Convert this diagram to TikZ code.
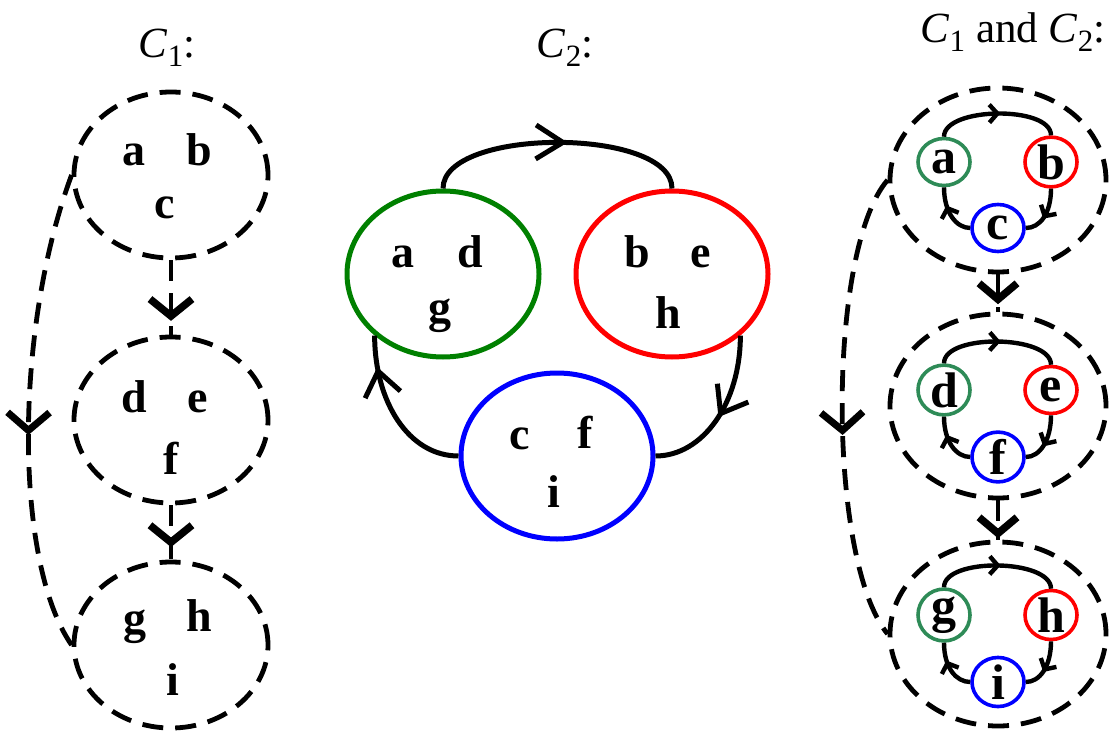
\documentclass[tikz,border=0pt]{standalone}
\usepackage{fontspec}
\setmainfont{Liberation Serif}
\usetikzlibrary{decorations.markings,shapes.geometric}

\definecolor{cgreen}{RGB}{0,128,0}
\definecolor{cred}{RGB}{255,0,0}
\definecolor{cblue}{RGB}{0,0,255}
\definecolor{sgreen}{RGB}{46,139,87}

\tikzset{
  title/.style={anchor=base, inner sep=0pt, font=\fontsize{43}{48}\selectfont},
  elt/.style={anchor=base, inner sep=0pt, font=\fontsize{46}{50}\selectfont\bfseries},
  dashline/.style={line width=4.8pt, dash pattern=on 21pt off 12pt},
  group/.style={ellipse, draw, dashline, inner sep=0pt, minimum width=194pt, minimum height=166pt},
  wrap/.style={ellipse, draw, dashline, inner sep=0pt, minimum width=216pt, minimum height=184pt},
  bigset/.style={ellipse, draw, line width=5pt, inner sep=0pt, minimum width=192pt, minimum height=166pt},
  member/.style={ellipse, draw, line width=3.6pt, inner sep=0pt, minimum width=52pt, minimum height=47pt,
                 font=\fontsize{50}{50}\selectfont\bfseries},
  flow/.style={dashline},
  ring/.style={line width=5pt},
  thinring/.style={line width=4.4pt},
  % open V head at fraction #1 of the path: depth #2, half-spread #3, stroke #4
  tipat/.style n args={4}{postaction={decorate, decoration={markings,
      mark=at position #1 with {\draw[line width=#4, solid, line cap=butt, line join=miter]
        (-#2,#3) -- (0,0) -- (-#2,-#3);}}}},
}

\newcommand{\Cset}[1]{\textit{C}\raisebox{-9pt}{\fontsize{31}{31}\selectfont #1}}

\begin{document}
\begin{tikzpicture}[x=1pt, y=1pt]
\useasboundingbox (0,0) rectangle (1115,-730);

% ---------- titles ----------
\node[title] (t1) at (167,-58) {\Cset{1}:};
\node[title] (t2) at (565,-58) {\Cset{2}:};
\node[title] (t3) at (1013,-43) {\Cset{1} and \Cset{2}:};

% ---------- C1: three dashed groups ----------
\node[group] (L1) at (171,-175) {};
\node[group] (L2) at (171,-420) {};
\node[group] (L3) at (171,-645) {};

\node[elt] (la) at (134,-165) {a};
\node[elt] (lb) at (199,-165) {b};
\node[elt] (lc) at (165,-218) {c};
\node[elt] (ld) at (134,-412) {d};
\node[elt] (le) at (198,-412) {e};
\node[elt] (lf) at (171,-474) {f};
\node[elt] (lg) at (135,-633) {g};
\node[elt] (lh) at (199,-631) {h};
\node[elt] (li) at (173,-695) {i};

\draw[flow, tipat={0.75}{17}{21}{7.5pt}] (L1.south) -- (L2.north);
\draw[flow, tipat={0.68}{17}{21}{7.5pt}] (L2.south) -- (L3.north);
\draw[flow, tipat={0.54}{18}{21}{7pt}] (L1.west) .. controls (14,-330) and (14,-562) .. (L3.west);

% ---------- C2: three coloured sets ----------
\node[bigset, draw=cgreen] (SG) at (443,-274) {};
\node[bigset, draw=cred]   (SR) at (672,-274) {};
\node[bigset, draw=cblue]  (SB) at (557,-456) {};

\node[elt] (ma) at (403,-267) {a};
\node[elt] (md) at (470,-267) {d};
\node[elt] (mg) at (440,-322) {g};
\node[elt] (mb) at (637,-267) {b};
\node[elt] (me) at (701,-267) {e};
\node[elt] (mh) at (668,-328) {h};
\node[elt] (mc) at (520,-449) {c};
\node[elt] (mf) at (585,-448) {f};
\node[elt] (mi) at (554,-507) {i};

\draw[ring, tipat={0.52}{27}{17}{5pt}] (SG.north) .. controls (443,-127) and (672,-127) .. (SR.north);
\draw[ring, tipat={0.5}{24}{18}{5pt}] (SR.-42) .. controls +(0,-68) and +(47,0) .. (SB.east);
\draw[ring, tipat={0.78}{24}{18}{5pt}] (SB.west) .. controls +(-50,0) and +(0,-66) .. (SG.-138);

% ---------- C1 and C2 combined ----------
\node[wrap] (O1) at (998,-180) {};
\node[wrap] (O2) at (998,-406) {};
\node[wrap] (O3) at (998,-634) {};

\node[member, draw=sgreen] (A) at (944,-162) {a};
\node[member, draw=cred]   (B) at (1051,-162) {b};
\node[member, draw=cblue]  (C) at (998,-228) {c};
\node[member, draw=sgreen] (D) at (944,-390) {d};
\node[member, draw=cred]   (E) at (1051,-390) {e};
\node[member, draw=cblue]  (F) at (998,-457) {f};
\node[member, draw=sgreen] (G) at (944,-615) {g};
\node[member, draw=cred]   (H) at (1051,-615) {h};
\node[member, draw=cblue]  (I) at (998,-682) {i};

\foreach \p/\q/\r in {A/B/C, D/E/F, G/H/I}{
  \draw[thinring, tipat={0.5}{8}{9}{4.4pt}] (\p.north) .. controls +(0,30) and +(0,30) .. (\q.north);
  \draw[thinring, tipat={0.55}{8}{9}{4.4pt}] (\q.south) .. controls +(0,-25) and +(14,0) .. (\r.east);
  \draw[thinring, tipat={0.6}{8}{9}{4.4pt}] (\r.west) .. controls +(-14,0) and +(0,-25) .. (\p.south);
}

\draw[flow, tipat={0.67}{16}{19}{7.5pt}] (O1.south) -- (O2.north);
\draw[flow, tipat={0.84}{16}{19}{7.5pt}] (O2.south) -- (O3.north);
\draw[flow, tipat={0.55}{18}{21}{7pt}] (O1.west) .. controls (827,-250) and (827,-560) .. (O3.west);
\end{tikzpicture}
\end{document}
